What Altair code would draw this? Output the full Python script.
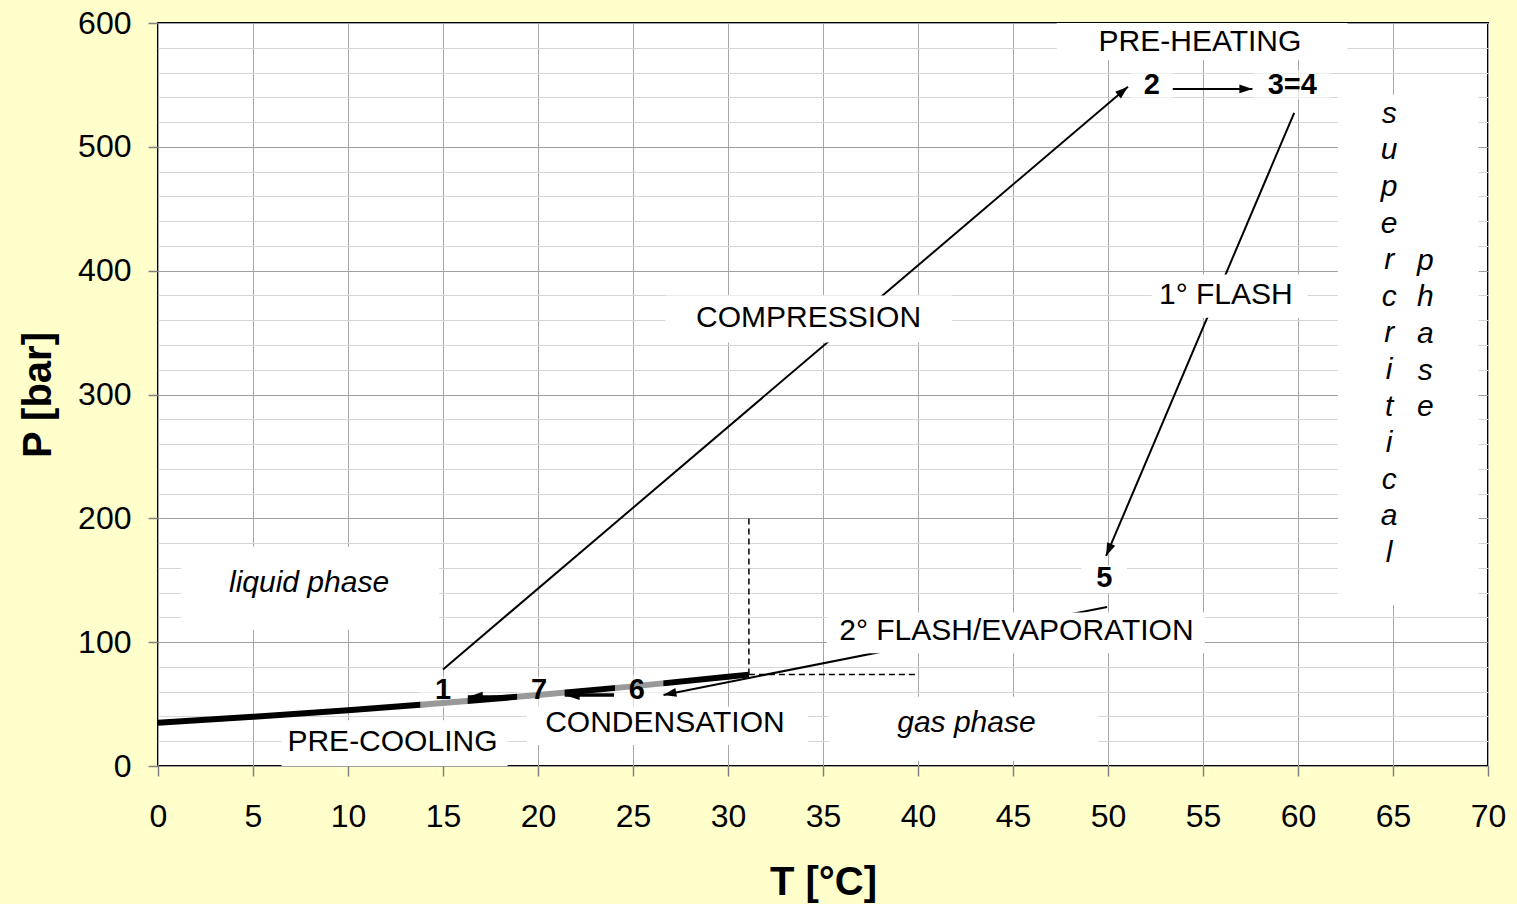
import math
import altair as alt
import pandas as pd

PLOT_W, PLOT_H = 1330, 743
T_MAX, P_MAX = 70, 600
FONT = "Liberation Sans"

x_ticks = list(range(0, 71, 5))
y_grid = list(range(0, 601, 20))

# CO2 saturation (liquid/gas) curve up to the critical point
sat_T = [0, 5, 10, 15, 20, 25, 30, 31.1]
sat_P = [34.9, 39.7, 45.0, 50.9, 57.3, 64.3, 72.1, 73.8]

# critical point guides (dashed)
crit_T, crit_P = 31.1, 73.8
guide_P_top = 200
guide_T_right = 40

# process arrows
arrow_T0 = [15.0, 53.4, 59.8, 49.95, 24.0, 18.9]
arrow_P0 = [78.0, 546.8, 527.5, 128.4, 57.4, 55.8]
arrow_T1 = [51.05, 57.6, 49.9, 26.6, 21.4, 16.3]
arrow_P1 = [548.5, 546.8, 169.6, 57.4, 57.4, 55.8]
arrow_w = [2, 2, 2, 2, 3.5, 3.5]
arrow_len = [13, 13, 13, 13, 15, 15]

# white label backgrounds
box_T0 = [1.2, 35.3, 26.7, 52.3, 35.2, 19.4, 6.5, 47.3, 62.1, 48.6]
box_T1 = [14.8, 49.5, 41.8, 60.5, 55.1, 34.2, 18.4, 62.6, 69.5, 51.0]
box_P0 = [110, 4, 342, 362, 91, 17, 0, 570, 130, 140]
box_P1 = [177, 56, 380, 397, 124, 48, 37, 600, 542, 162]

# translucent backgrounds of the state-point numbers
nbox_T0 = [13.8, 18.9, 24.05, 51.2, 57.7]
nbox_T1 = [16.3, 21.4, 26.6, 53.4, 61.7]
nbox_P0 = [47, 47, 48, 538, 538]
nbox_P1 = [72, 72, 74, 562, 562]

proc_text = ["PRE-HEATING", "COMPRESSION", "1° FLASH", "2° FLASH/EVAPORATION",
             "CONDENSATION", "PRE-COOLING"]
proc_T = [54.84, 34.24, 56.2, 45.18, 26.68, 12.34]
proc_P = [584.8, 361.9, 380.4, 109.0, 34.7, 19.4]

phase_text = ["liquid phase", "gas phase"]
phase_T = [7.95, 42.55]
phase_P = [147.8, 34.7]

point_text = ["1", "7", "6", "2", "3=4", "5"]
point_T = [15.0, 20.05, 25.2, 52.3, 59.7, 49.8]
point_P = [61.4, 61.4, 61.4, 550, 550, 152]

# vertical words: position of their first letter
vert_words = ["supercritical", "phase"]
vert_T = [64.8, 66.7]
vert_P = [526.7, 408.0]

sx = PLOT_W / T_MAX
sy = PLOT_H / P_MAX


def head_angle(t0, p0, t1, p1):
    dx = (t1 - t0) * sx
    dy = -(p1 - p0) * sy
    return math.degrees(math.atan2(dx, -dy)) % 360


xscale = alt.Scale(domain=[0, T_MAX], nice=False, zero=False)
yscale = alt.Scale(domain=[0, P_MAX], nice=False, zero=False)

x_axis = alt.Axis(
    values=x_ticks, grid=True, gridColor="#A6A6A6", gridWidth=1,
    tickColor="#808080", tickSize=10, tickWidth=1.5, domain=False,
    labelFontSize=32, labelFont=FONT, labelColor="black", labelPadding=25,
    labelFlush=False, title="T [°C]", titleFont=FONT, titleFontSize=40,
    titleFontWeight="bold", titleColor="black", titleY=128,
    titleBaseline="alphabetic",
)
y_axis = alt.Axis(
    values=y_grid, grid=True,
    gridColor={"condition": {"test": "datum.value % 100 === 0", "value": "#A0A0A0"},
               "value": "#D6D6D6"},
    gridWidth=1,
    tickOpacity={"condition": {"test": "datum.value % 100 === 0", "value": 1},
                 "value": 0},
    tickColor="#808080", tickSize=10, tickWidth=1.5, domain=False,
    labelExpr="datum.value % 100 === 0 ? datum.label : ''",
    labelFontSize=32, labelFont=FONT, labelColor="black", labelPadding=17,
    labelFlush=False, title="P [bar]", titleFont=FONT, titleFontSize=40,
    titleFontWeight="bold", titleColor="black", titleX=-108,
    titleBaseline="alphabetic",
)


def X(field):
    return alt.X(field, type="quantitative", scale=xscale, axis=x_axis)


def Y(field):
    return alt.Y(field, type="quantitative", scale=yscale, axis=y_axis)


sat_df = pd.DataFrame({"T": sat_T, "P": sat_P})
sat_line = alt.Chart(sat_df).mark_line(color="black", strokeWidth=6, strokeCap="butt").encode(
    x=X("T"), y=Y("P"), order="T:Q")

guide_df = pd.DataFrame({
    "T0": [crit_T, crit_T], "P0": [crit_P, crit_P],
    "T1": [crit_T, guide_T_right], "P1": [guide_P_top, crit_P]})
guides = alt.Chart(guide_df).mark_rule(color="black", strokeWidth=1.5, strokeDash=[6, 4]).encode(
    x=X("T0"), y=Y("P0"), x2="T1", y2="P1")

arr_df = pd.DataFrame({"T0": arrow_T0, "P0": arrow_P0, "T1": arrow_T1, "P1": arrow_P1,
                       "w": arrow_w, "len": arrow_len})
arr_df["angle"] = [head_angle(a, b, c, d) for a, b, c, d in
                   zip(arrow_T0, arrow_P0, arrow_T1, arrow_P1)]
arr_df["size"] = [(2 * L) ** 2 for L in arrow_len]

arrow_lines = alt.Chart(arr_df).mark_rule(color="black", strokeCap="butt").encode(
    x=X("T0"), y=Y("P0"), x2="T1", y2="P1",
    strokeWidth=alt.StrokeWidth("w:Q", scale=None))
arrow_heads = alt.Chart(arr_df).mark_point(
    shape="M0,0L0.34,1L-0.34,1Z", filled=True, color="black", opacity=1, strokeWidth=0
).encode(
    x=X("T1"), y=Y("P1"),
    angle=alt.Angle("angle:Q", scale=None),
    size=alt.Size("size:Q", scale=None))

box_df = pd.DataFrame({"T0": box_T0, "T1": box_T1, "P0": box_P0, "P1": box_P1})
boxes = alt.Chart(box_df).mark_rect(color="white", opacity=1).encode(
    x=X("T0"), x2="T1", y=Y("P0"), y2="P1")

nbox_df = pd.DataFrame({"T0": nbox_T0, "T1": nbox_T1, "P0": nbox_P0, "P1": nbox_P1})
nboxes = alt.Chart(nbox_df).mark_rect(color="white", opacity=0.6).encode(
    x=X("T0"), x2="T1", y=Y("P0"), y2="P1")

proc_df = pd.DataFrame({"T": proc_T, "P": proc_P, "label": proc_text})
proc_labels = alt.Chart(proc_df).mark_text(
    font=FONT, fontSize=30, color="black", align="center", baseline="middle"
).encode(x=X("T"), y=Y("P"), text="label:N")

phase_df = pd.DataFrame({"T": phase_T, "P": phase_P, "label": phase_text})
phase_labels = alt.Chart(phase_df).mark_text(
    font=FONT, fontSize=30, fontStyle="italic", color="black", align="center",
    baseline="middle"
).encode(x=X("T"), y=Y("P"), text="label:N")

point_df = pd.DataFrame({"T": point_T, "P": point_P, "label": point_text})
point_labels = alt.Chart(point_df).mark_text(
    font=FONT, fontSize=29, fontWeight="bold", color="black", align="center",
    baseline="middle"
).encode(x=X("T"), y=Y("P"), text="label:N")

vert_layers = []
for word, t, p in zip(vert_words, vert_T, vert_P):
    vdf = pd.DataFrame({"T": [t], "P": [p]})
    vert_layers.append(
        alt.Chart(vdf).mark_text(
            font=FONT, fontSize=30, fontStyle="italic", color="black",
            align="center", baseline="middle", lineHeight=36.6
        ).encode(x=X("T"), y=Y("P"), text=alt.value(list(word)))
    )

chart = alt.layer(
    sat_line, guides, arrow_lines, arrow_heads, boxes, nboxes,
    proc_labels, phase_labels, point_labels, *vert_layers
).properties(
    width=PLOT_W, height=PLOT_H,
    autosize=alt.AutoSizeParams(type="none"),
    padding={"left": 158, "top": 23, "right": 29, "bottom": 138},
    background="#FFFFCC",
).configure_view(
    fill="white", stroke="black", strokeWidth=2
)

chart.save("out.html", embed_options={"renderer": "svg", "actions": False})
